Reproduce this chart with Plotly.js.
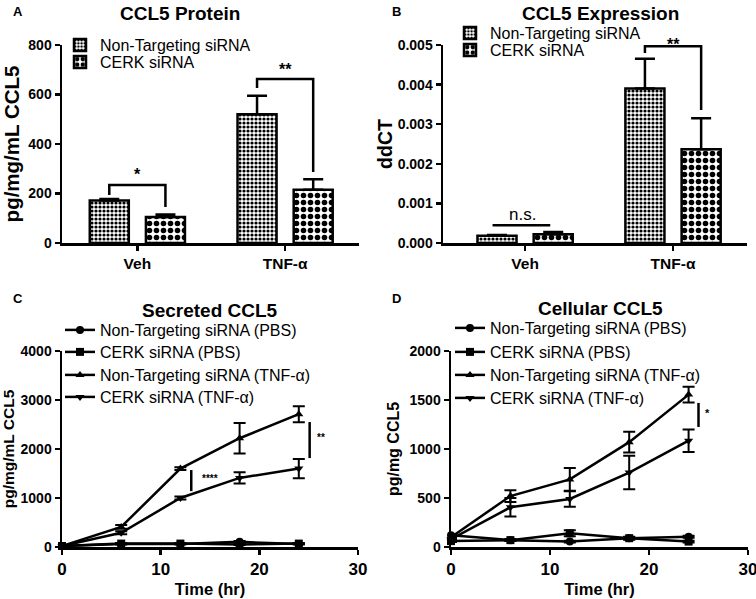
<!DOCTYPE html>
<html><head><meta charset="utf-8">
<script src="https://cdn.plot.ly/plotly-3.0.1.min.js"></script>
<style>html,body{margin:0;padding:0;background:#fff}#chart{width:756px;height:599px}</style>
</head><body><div id="chart"></div>
<script>
// ---------- data ----------
const barCategories = ['Veh', 'TNF-α'];
const proteinNT = [172, 520];
const proteinNTErr = [6, 75];
const proteinCERK = [105, 215];
const proteinCERKErr = [10, 43];

const exprNT = [0.00018, 0.0039];
const exprNTErr = [0.00002, 0.00075];
const exprCERK = [0.00022, 0.00237];
const exprCERKErr = [0.00006, 0.00078];

const timeHr = [0, 6, 12, 18, 24];
const secNTPBS = [20, 60, 60, 105, 60];
const secNTPBSErr = [0, 10, 10, 15, 10];
const secCERKPBS = [20, 70, 70, 50, 70];
const secCERKPBSErr = [0, 10, 10, 10, 10];
const secNTTNF = [20, 410, 1600, 2220, 2710];
const secNTTNFErr = [0, 40, 30, 310, 165];
const secCERKTNF = [20, 290, 1000, 1410, 1600];
const secCERKTNFErr = [0, 30, 30, 115, 195];

const cellNTPBS = [120, 70, 55, 90, 105];
const cellNTPBSErr = [10, 10, 10, 10, 10];
const cellCERKPBS = [60, 70, 140, 90, 55];
const cellCERKPBSErr = [10, 10, 30, 15, 10];
const cellNTTNF = [100, 520, 690, 1070, 1555];
const cellNTTNFErr = [10, 60, 115, 105, 80];
const cellCERKTNF = [80, 405, 490, 760, 1085];
const cellCERKTNFErr = [10, 95, 80, 170, 115];

const seriesNames = ['Non-Targeting siRNA (PBS)', 'CERK siRNA (PBS)', 'Non-Targeting siRNA (TNF-α)', 'CERK siRNA (TNF-α)'];
const barNames = ['Non-Targeting siRNA', 'CERK siRNA'];

// ---------- styling ----------
const F = 'Liberation Sans, Arial, sans-serif';
const W = 756, H = 599;
const px = v => v / W;
const py = v => 1 - v / H;

const fineChecker = {shape: '.', size: 4, solidity: 0.5, fgcolor: 'black', bgcolor: 'white', fillmode: 'replace'};
const coarseChecker = {shape: '.', size: 7, solidity: 0.5, fgcolor: 'black', bgcolor: 'white', fillmode: 'replace'};

function barTrace(y, err, name, pattern, xa, ya, leg) {
  return {
    type: 'bar', x: barCategories, y: y, name: name, xaxis: xa, yaxis: ya, legend: leg,
    marker: {color: 'white', line: {color: 'black', width: 2.5}, pattern: pattern},
    error_y: {type: 'data', array: err, arrayminus: err.map(() => 0), symmetric: false, color: 'black', thickness: 2.5, width: 10},
    cliponaxis: false
  };
}
const symbols = ['circle', 'square', 'triangle-up', 'triangle-down'];
function lineTrace(y, err, i, xa, ya, leg) {
  return {
    type: 'scatter', mode: 'lines+markers', x: timeHr, y: y, name: seriesNames[i], xaxis: xa, yaxis: ya, legend: leg,
    line: {color: 'black', width: 2.5}, marker: {symbol: symbols[i], size: 8, color: 'black'},
    error_y: {type: 'data', array: err, color: 'black', thickness: 2, width: 6},
    cliponaxis: false
  };
}

const data = [
  barTrace(proteinNT, proteinNTErr, barNames[0], fineChecker, 'x', 'y', 'legend'),
  barTrace(proteinCERK, proteinCERKErr, barNames[1], coarseChecker, 'x', 'y', 'legend2'),
  barTrace(exprNT, exprNTErr, barNames[0], fineChecker, 'x2', 'y2', 'legend3'),
  barTrace(exprCERK, exprCERKErr, barNames[1], coarseChecker, 'x2', 'y2', 'legend4'),
  lineTrace(secNTPBS, secNTPBSErr, 0, 'x3', 'y3', 'legend5'),
  lineTrace(secCERKPBS, secCERKPBSErr, 1, 'x3', 'y3', 'legend6'),
  lineTrace(secNTTNF, secNTTNFErr, 2, 'x3', 'y3', 'legend7'),
  lineTrace(secCERKTNF, secCERKTNFErr, 3, 'x3', 'y3', 'legend8'),
  lineTrace(cellNTPBS, cellNTPBSErr, 0, 'x4', 'y4', 'legend9'),
  lineTrace(cellCERKPBS, cellCERKPBSErr, 1, 'x4', 'y4', 'legend10'),
  lineTrace(cellNTTNF, cellNTTNFErr, 2, 'x4', 'y4', 'legend11'),
  lineTrace(cellCERKTNF, cellCERKTNFErr, 3, 'x4', 'y4', 'legend12')
];

function ax(fs, extra) {
  return Object.assign({
    showline: true, linewidth: 2.5, linecolor: 'black', ticks: 'outside', ticklen: 5, tickwidth: 2.5,
    tickcolor: 'black', showgrid: false, zeroline: false, fixedrange: true, ticklabeloverflow: 'allow',
    tickfont: {family: F, size: fs, color: 'black', weight: 'bold'}
  }, extra);
}
function axTitle(t, size, standoff) {
  return {text: t, font: {family: F, size: size, color: 'black', weight: 'bold'}, standoff: standoff};
}

const yTopAB = py(45), yBotAB = py(243);
const yTopCD = py(351), yBotCD = py(547);

// significance markers derived from data
const off = 0.19;
const shapes = [];
const annotations = [];
function seg(xa, ya, pts) {
  shapes.push({type: 'path', xref: xa, yref: ya, line: {color: 'black', width: 2.5},
    path: 'M' + pts.map(p => p[0] + ',' + p[1]).join('L')});
}
function txt(xref, yref, x, y, t, size, bold) {
  annotations.push({xref: xref, yref: yref, x: x, y: y, text: t, showarrow: false,
    font: {family: F, size: size, color: '#000000', weight: bold ? 'bold' : 'normal'}});
}
// A
{
  const l0 = proteinNT[0] + proteinNTErr[0], r0 = proteinCERK[0] + proteinCERKErr[0];
  const top0 = l0 + 56;
  seg('x', 'y', [[-off, l0 + 16], [-off, top0], [off, top0], [off, r0 + 30]]);
  txt('x', 'y', 0, top0 + 42, '*', 16, true);
  const l1 = proteinNT[1] + proteinNTErr[1], r1 = proteinCERK[1] + proteinCERKErr[1];
  const top1 = l1 + 68;
  seg('x', 'y', [[1 - off, l1 + 31], [1 - off, top1], [1 + off, top1], [1 + off, r1 + 29]]);
  txt('x', 'y', 1, top1 + 38, '**', 16, true);
}
// B
{
  const nsY = exprCERK[0] + exprCERKErr[0] + 0.00017;
  seg('x2', 'y2', [[-0.22, nsY], [0.17, nsY]]);
  txt('x2', 'y2', -0.02, nsY + 0.00028, 'n.s.', 17, false);
  const l1 = exprNT[1] + exprNTErr[1], r1 = exprCERK[1] + exprCERKErr[1];
  const top1 = l1 + 0.00032;
  seg('x2', 'y2', [[1 - off, l1 + 0.00015], [1 - off, top1], [1 + off, top1], [1 + off, r1 + 0.00021]]);
  txt('x2', 'paper', 1, py(34), '**', 16, true);
}
// C
seg('x3', 'y3', [[13.1, secNTTNF[2] - 30], [13.1, secCERKTNF[2] + 140]]);
txt('x3', 'y3', 15.0, (secNTTNF[2] + secCERKTNF[2]) / 2 + 100, '****', 10, true);
seg('x3', 'y3', [[25.1, secNTTNF[4] - 160], [25.1, secCERKTNF[4] + 215]]);
txt('x3', 'y3', 26.3, (secNTTNF[4] + secCERKTNF[4]) / 2 + 90, '**', 10, true);
// D
seg('x4', 'y4', [[25.0, cellNTTNF[4] - 85], [25.0, cellCERKTNF[4] + 140]]);
txt('x4', 'y4', 25.9, (cellNTTNF[4] + cellCERKTNF[4]) / 2 + 45, '*', 11, true);

// titles & panel letters
function ptxt(x, y, t, size, bold) {
  annotations.push({xref: 'paper', yref: 'paper', x: px(x), y: py(y), text: t, showarrow: false,
    xanchor: 'center', yanchor: 'middle', font: {family: F, size: size, color: 'black', weight: bold ? 'bold' : 'normal'}});
}
ptxt(180, 13, 'CCL5 Protein', 19, true);
ptxt(600, 13, 'CCL5 Expression', 19, true);
ptxt(210, 310, 'Secreted CCL5', 19, true);
ptxt(600, 308, 'Cellular CCL5', 19, true);
ptxt(18, 11, 'A', 13, true);
ptxt(396, 11, 'B', 13, true);
ptxt(18, 298, 'C', 13, true);
ptxt(396, 298, 'D', 13, true);

function leg(textX, rowY) {
  return {x: px(textX - 40), y: py(rowY), xanchor: 'left', yanchor: 'middle', bgcolor: 'rgba(0,0,0,0)',
    font: {family: F, size: 16, color: 'black'}, borderwidth: 0};
}

const layout = {
  width: W, height: H, margin: {l: 0, r: 0, t: 0, b: 0}, paper_bgcolor: 'white', plot_bgcolor: 'white',
  barmode: 'group', bargap: 0.24, bargroupgap: 0.305, showlegend: true,
  xaxis: ax(15.5, {domain: [px(62), px(359)], anchor: 'y', type: 'category', range: [-0.51, 1.5]}),
  yaxis: ax(14, {domain: [yBotAB, yTopAB], anchor: 'x', range: [0, 800], tickvals: [0, 200, 400, 600, 800], title: axTitle('pg/mg/mL CCL5', 20.5, 5)}),
  xaxis2: ax(15.5, {domain: [px(443), px(747)], anchor: 'y2', type: 'category', range: [-0.555, 1.5]}),
  yaxis2: ax(14, {domain: [yBotAB, yTopAB], anchor: 'x2', range: [0, 0.005], tickvals: [0, 0.001, 0.002, 0.003, 0.004, 0.005], tickformat: '.3f', title: axTitle('ddCT', 19.5, 0)}),
  xaxis3: ax(17, {domain: [px(62), px(358)], anchor: 'y3', range: [0, 30], tickvals: [0, 10, 20, 30], title: axTitle('Time (hr)', 16.5, 6)}),
  yaxis3: ax(14, {domain: [yBotCD, yTopCD], anchor: 'x3', range: [0, 4000], tickvals: [0, 1000, 2000, 3000, 4000], title: axTitle('pg/mg/mL CCL5', 15.5, 6)}),
  xaxis4: ax(17, {domain: [px(451), px(748)], anchor: 'y4', range: [0, 30], tickvals: [0, 10, 20, 30], title: axTitle('Time (hr)', 16.5, 6)}),
  yaxis4: ax(14, {domain: [yBotCD, yTopCD], anchor: 'x4', range: [0, 2000], tickvals: [0, 500, 1000, 1500, 2000], title: axTitle('pg/mg CCL5', 16, 6)}),
  legend: leg(100, 45), legend2: leg(100, 62),
  legend3: leg(490, 33), legend4: leg(490, 50),
  legend5: leg(100, 330), legend6: leg(100, 352), legend7: leg(100, 375), legend8: leg(100, 397),
  legend9: leg(490, 328), legend10: leg(490, 352), legend11: leg(490, 375), legend12: leg(490, 398),
  shapes: shapes, annotations: annotations
};

Plotly.newPlot('chart', data, layout, {staticPlot: true, displayModeBar: false});
</script></body></html>
